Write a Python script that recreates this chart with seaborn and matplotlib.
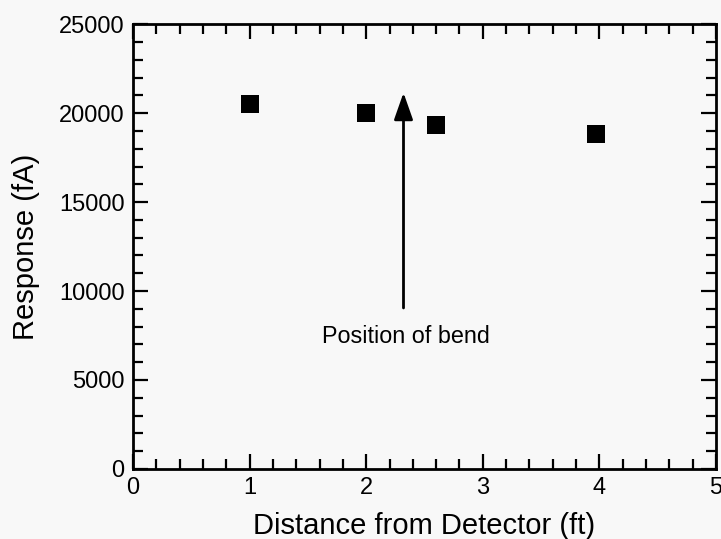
import matplotlib
matplotlib.use("Agg")
import matplotlib.pyplot as plt
import seaborn as sns
import pandas as pd
from matplotlib.ticker import MultipleLocator

distance_ft = [1.0, 2.0, 2.6, 3.97]
response_fA = [20500, 20020, 19330, 18820]
bend_x = 2.32
bend_tail = 9050
bend_head = 21150
bend_label = "Position of bend"

sns.set_style("ticks")
plt.rcParams['font.family'] = ['Liberation Sans', 'DejaVu Sans']
plt.rcParams['text.color'] = 'black'
plt.rcParams['axes.labelcolor'] = 'black'
plt.rcParams['xtick.color'] = 'black'
plt.rcParams['ytick.color'] = 'black'

df = pd.DataFrame({"Distance from Detector (ft)": distance_ft,
                   "Response (fA)": response_fA})

fig = plt.figure(figsize=(7.21, 5.39), dpi=100, facecolor="#f8f8f8")
ax = fig.add_axes([0.1845, 0.130, 0.8085, 0.825])
ax.set_facecolor("#f8f8f8")

sns.scatterplot(data=df, x="Distance from Detector (ft)", y="Response (fA)",
                marker="s", s=150, color="black", edgecolor="black",
                linewidth=0, ax=ax, zorder=3)

ax.annotate("", xy=(bend_x, bend_head), xytext=(bend_x, bend_tail),
            arrowprops=dict(arrowstyle="-|>,head_length=1.65,head_width=0.58",
                            color="black", lw=2, shrinkA=0, shrinkB=0))
ax.text(bend_x + 0.02, 7450, bend_label, ha="center", va="center", fontsize=16.8)

ax.set_xlim(0, 5)
ax.set_ylim(0, 25000)
ax.xaxis.set_major_locator(MultipleLocator(1))
ax.xaxis.set_minor_locator(MultipleLocator(0.2))
ax.yaxis.set_major_locator(MultipleLocator(5000))
ax.yaxis.set_minor_locator(MultipleLocator(1000))

for s in ax.spines.values():
    s.set_visible(True)
    s.set_linewidth(2.0)
    s.set_color("black")

ax.tick_params(which="both", direction="in", top=True, right=True,
               color="black", width=1.6)
ax.tick_params(which="major", length=11, labelsize=17, pad=6)
ax.tick_params(which="minor", length=7)

ax.set_xlabel("Distance from Detector (ft)", fontsize=21, labelpad=9)
ax.set_ylabel("Response (fA)", fontsize=21, labelpad=14)

fig.savefig("out.png", dpi=100, facecolor=fig.get_facecolor())
